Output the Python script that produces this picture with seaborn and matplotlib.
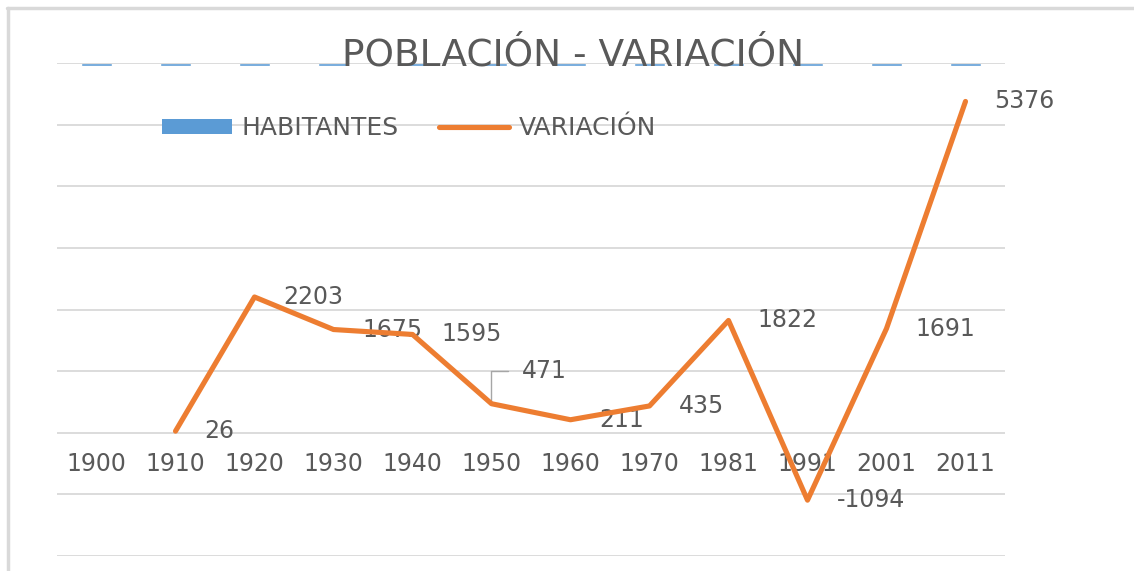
import numpy as np
import pandas as pd
import seaborn as sns
import matplotlib.pyplot as plt
from matplotlib.patches import Patch
from matplotlib.lines import Line2D

sns.set_theme(style="white")
plt.rcParams['font.family'] = ['DejaVu Sans']

# data
years = ['1900', '1910', '1920', '1930', '1940', '1950',
         '1960', '1970', '1981', '1991', '2001', '2011']
variacion = [np.nan, 26, 2203, 1675, 1595, 471, 211, 435, 1822, -1094, 1691, 5376]
# habitantes bars only show as thin slivers at the top of the plot
habitantes = [0.7, 0.7, 0.7, 0.7, 0.7, 0.7, 0.7, 0.7, 0.7, 0.7, 0.7, 0.7]

GRAY = '#595959'
ORANGE = '#ED7D31'
BLUE = '#5B9BD5'
GRID = '#D9D9D9'

df = pd.DataFrame({'pos': np.arange(len(years)), 'year': years,
                   'variacion': variacion, 'habitantes': habitantes})

fig = plt.figure(figsize=(11.34, 5.71), dpi=100)
ax = fig.add_axes([57 / 1134, 1 - 556 / 571, (1005 - 57) / 1134, (556 - 63) / 571])

# habitantes on a hidden twin axis, hanging from the top
ax2 = ax.twinx()
sns.barplot(data=df, x='pos', y='habitantes', color=BLUE, width=0.38,
            saturation=1, ax=ax2, native_scale=True)
ax2.set_ylim(100, 0)
ax2.set_axis_off()

sns.lineplot(data=df, x='pos', y='variacion', color=ORANGE, linewidth=3.7,
             ax=ax, zorder=5)
ax.set_zorder(ax2.get_zorder() + 1)
ax.patch.set_visible(False)

ax.set_xlim(-0.5, len(years) - 0.5)
ax.set_ylim(-2000, 6000)
ax.set_yticks(np.arange(-2000, 6001, 1000))
ax.yaxis.grid(True, color=GRID, linewidth=1.3)
ax.set_yticklabels([])
ax.tick_params(axis='y', length=0)
for s in ax.spines.values():
    s.set_visible(False)
ax.spines['bottom'].set_position(('data', 0))
ax.set_xticks(df['pos'])
ax.set_xticklabels(years, color=GRAY, fontsize=17)
ax.tick_params(axis='x', length=0, pad=14)
ax.set_xlabel('')
ax.set_ylabel('')

# data labels
for p, v in zip(df['pos'], variacion):
    if np.isnan(v):
        continue
    if int(v) == 471:
        ax.annotate(f'{int(v)}', xy=(p, v), xytext=(30, 33), textcoords='offset pixels',
                    ha='left', va='center', fontsize=17, color=GRAY,
                    arrowprops=dict(arrowstyle='-', color='#A6A6A6', lw=1,
                                    connectionstyle='angle,angleA=0,angleB=90,rad=0',
                                    relpos=(0, 0.5), shrinkA=7, shrinkB=0))
    else:
        ax.annotate(f'{int(v)}', xy=(p, v), xytext=(29, 0), textcoords='offset pixels',
                    ha='left', va='center', fontsize=17, color=GRAY)

# title
fig.text(573 / 1134, 1 - 65 / 571, 'POBLACIÓN - VARIACIÓN', ha='center',
         va='baseline', fontsize=27, color=GRAY)

# legend
handles = [Patch(facecolor=BLUE, edgecolor='none', label='HABITANTES'),
           Line2D([0], [0], color=ORANGE, lw=3.7, label='VARIACIÓN')]
fig.legend(handles=handles, loc='center left', bbox_to_anchor=(162 / 1134, 1 - 128 / 571),
           ncol=2, frameon=False, fontsize=18, labelcolor=GRAY, handlelength=2.8,
           handleheight=0.55, handletextpad=0.4, columnspacing=1.6,
           borderpad=0, borderaxespad=0)

# chart frame
fig.add_artist(Line2D([7 / 1134, 1], [1 - 8 / 571, 1 - 8 / 571], color=GRID, lw=2.5,
                      transform=fig.transFigure))
fig.add_artist(Line2D([8 / 1134, 8 / 1134], [0, 1 - 8 / 571], color=GRID, lw=2.5,
                      transform=fig.transFigure))

fig.savefig('out.png', dpi=100)
